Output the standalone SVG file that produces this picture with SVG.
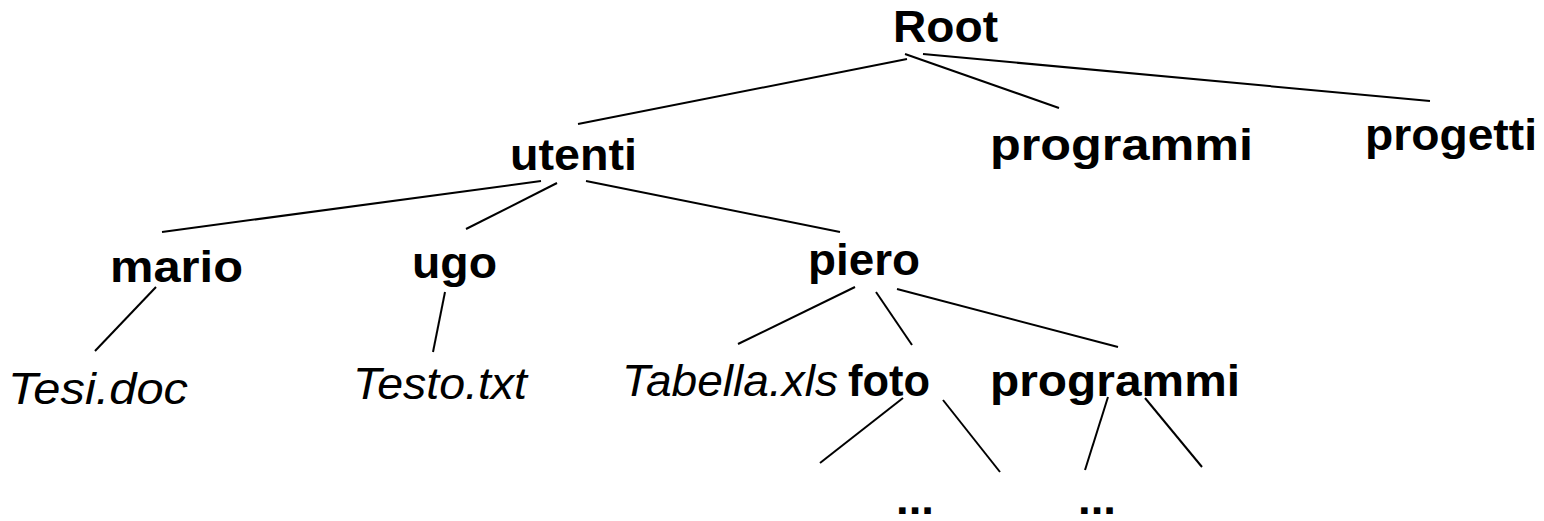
<svg xmlns="http://www.w3.org/2000/svg" width="1544" height="521" viewBox="0 0 1544 521">
<style>
text{font-family:"Liberation Sans",Arial,sans-serif;font-size:45px;fill:#000}
.b{font-weight:bold}
.i{font-style:italic}
line{stroke:#000;stroke-width:2}
</style>
<rect width="1544" height="521" fill="#fff"/>
<g id="connectors">
<line x1="907" y1="59" x2="578" y2="124"/>
<line x1="905" y1="54" x2="1059" y2="108"/>
<line x1="923" y1="54" x2="1430" y2="101"/>
<line x1="541" y1="181" x2="162" y2="232"/>
<line x1="557" y1="183" x2="466" y2="229"/>
<line x1="586" y1="181" x2="840" y2="232"/>
<line x1="156" y1="287" x2="95" y2="351"/>
<line x1="445" y1="292" x2="433" y2="352"/>
<line x1="855" y1="287" x2="738" y2="344"/>
<line x1="876" y1="292" x2="912" y2="345"/>
<line x1="897" y1="289" x2="1118" y2="347"/>
<line x1="903" y1="398" x2="820" y2="463"/>
<line x1="943" y1="400" x2="1000" y2="472"/>
<line x1="1108" y1="397" x2="1085" y2="470"/>
<line x1="1145" y1="398" x2="1202" y2="467"/>
</g>
<g id="root"><text class="b" x="893" y="42" textLength="105" lengthAdjust="spacingAndGlyphs">Root</text></g>
<g id="utenti"><text class="b" x="510" y="170" textLength="127" lengthAdjust="spacingAndGlyphs">utenti</text></g>
<g id="programmi"><text class="b" x="990" y="160" textLength="263" lengthAdjust="spacingAndGlyphs">programmi</text></g>
<g id="progetti"><text class="b" x="1365" y="150" textLength="172" lengthAdjust="spacingAndGlyphs">progetti</text></g>
<g id="mario"><text class="b" x="110" y="282" textLength="133" lengthAdjust="spacingAndGlyphs">mario</text></g>
<g id="ugo"><text class="b" x="412" y="278" textLength="85" lengthAdjust="spacingAndGlyphs">ugo</text></g>
<g id="piero"><text class="b" x="808" y="275" textLength="112" lengthAdjust="spacingAndGlyphs">piero</text></g>
<g id="tesi"><text class="i" x="8" y="404" textLength="180" lengthAdjust="spacingAndGlyphs">Tesi.doc</text></g>
<g id="testo"><text class="i" x="353" y="399" textLength="174" lengthAdjust="spacingAndGlyphs">Testo.txt</text></g>
<g id="tabella"><text class="i" x="622" y="396" textLength="216" lengthAdjust="spacingAndGlyphs">Tabella.xls</text></g>
<g id="foto"><text class="b" x="848" y="396" textLength="82" lengthAdjust="spacingAndGlyphs">foto</text></g>
<g id="programmi2"><text class="b" x="990" y="396" textLength="250" lengthAdjust="spacingAndGlyphs">programmi</text></g>
<g id="dots1"><text class="b" x="896" y="514" textLength="38" lengthAdjust="spacingAndGlyphs">...</text></g>
<g id="dots2"><text class="b" x="1078" y="514" textLength="38" lengthAdjust="spacingAndGlyphs">...</text></g>
</svg>
